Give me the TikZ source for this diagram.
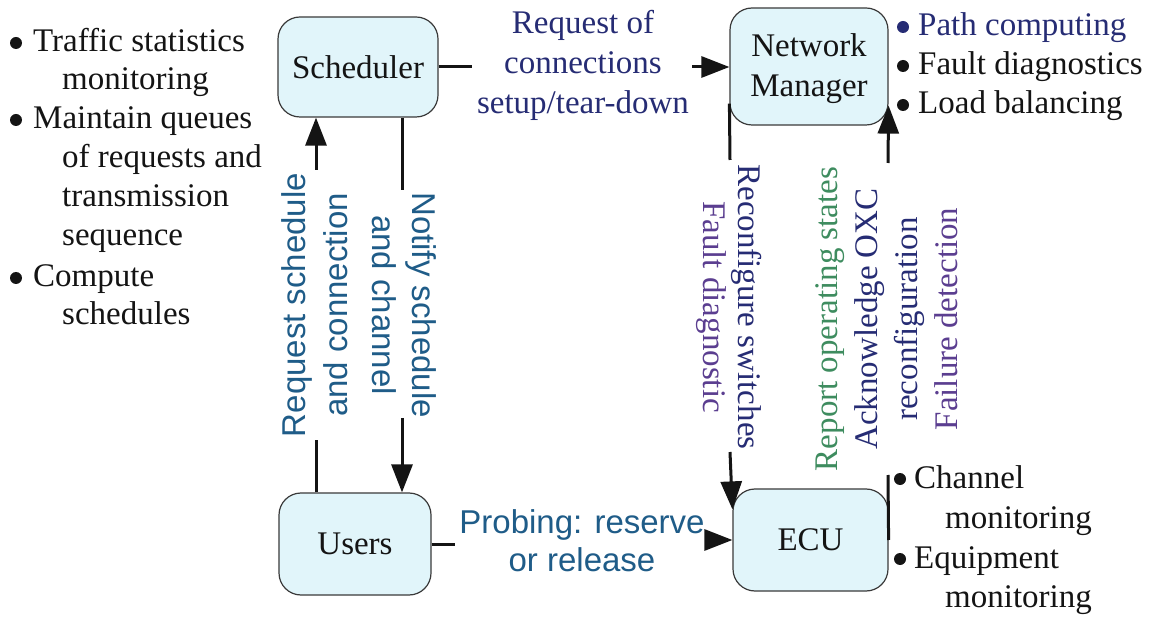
\documentclass[tikz,border=0pt]{standalone}
\usepackage{fontspec}
\setmainfont{Liberation Serif}
\setsansfont{Liberation Sans}
\usetikzlibrary{arrows.meta,calc}
\definecolor{inknavy}{HTML}{262C74}
\definecolor{inkteal}{HTML}{1F5C88}
\definecolor{inkpurple}{HTML}{5B3E90}
\definecolor{inkgreen}{HTML}{3E8C5F}
\definecolor{inkblack}{HTML}{141414}
\definecolor{boxfill}{HTML}{E1F5FA}
\definecolor{boxline}{HTML}{3A3A3A}
\tikzset{
  unit/.style={draw=boxline, fill=boxfill, line width=1.2pt, rounded corners=22pt,
    inner sep=0pt, font=\fontsize{33pt}{40pt}\selectfont, text=inkblack, align=center},
  serif33/.style={inner sep=0pt, font=\fontsize{33pt}{40pt}\selectfont},
  sans33/.style={inner sep=0pt, font=\sffamily\fontsize{33pt}{40pt}\selectfont,
    text=inkteal, align=center},
  listline/.style={inner sep=0pt, anchor=base west,
    font=\fontsize{33pt}{40pt}\selectfont, text=inkblack},
  link/.style={line width=3pt, draw=inkblack},
  flow/.style={link, -{Triangle[length=28pt,width=21pt]}},
  dot/.style={fill=inkblack},
}
\begin{document}
\begin{tikzpicture}[x=1pt,y=-1pt]
\useasboundingbox[fill=white] (0,0) rectangle (1154,617);

% functional units
\node[unit, minimum width=160pt, minimum height=100pt] (sched) at (358,67) {Scheduler};
\node[unit, minimum width=158pt, minimum height=117pt] (nm) at (809,66.5) {\strut Network\\Manager};
\node[unit, minimum width=152pt, minimum height=102pt] (users) at (355,544) {Users};
\node[unit, minimum width=155pt, minimum height=102pt] (ecu) at (810.5,540) {ECU};

% free ends of the interrupted connectors
\coordinate (snA) at (472,67);
\coordinate (snB) at (692,67);
\coordinate (usA) at (316,440);
\coordinate (usB) at (316,170);
\coordinate (suA) at (402,190);
\coordinate (suB) at (402,418);
\coordinate (ueA) at (455,544);
\coordinate (ueB) at (705,540);
\coordinate (neA) at (730,160);
\coordinate (neB) at (730,452);
\coordinate (neT) at ($(ecu.north west)+(0,21)$);
\coordinate (enA) at (888,475);
\coordinate (enB) at (888,163);
\coordinate (enT) at ($(nm.south east)+(0,-20)$);

% Scheduler -> Network Manager
\draw[link] (sched.east) -- (snA);
\draw[flow] (snB) -- (snB -| nm.west);
% Users -> Scheduler
\draw[link] (usA |- users.north) -- (usA);
\draw[flow] (usB) -- (usB |- sched.south);
% Scheduler -> Users
\draw[link] (suA |- sched.south) -- (suA);
\draw[flow] (suB) -- (suB |- users.north);
% Users -> ECU
\draw[link] (users.east) -- (ueA);
\draw[flow] (ueB) -- (ueB -| ecu.west);
% Network Manager -> ECU
\draw[link] ([yshift=22pt]nm.south west) -- (neA);
\draw[flow] (neB) -- (neT);
% ECU -> Network Manager
\draw[link] (ecu.east) -- (enA);
\draw[flow] (enB) -- (enT);

% connector labels
\node[serif33, text=inknavy, align=center] (setup) at (583,65)
  {Request of\\connections\\setup/tear-down};
\node[sans33, rotate=90, font=\sffamily\fontsize{33pt}{42pt}\selectfont] (reqsched) at (315,305)
  {Request schedule\\and connection};
\node[sans33, rotate=-90] (notify) at (404,305) {Notify schedule\\and channel};
\node[sans33, font=\sffamily\fontsize{33pt}{38pt}\selectfont] (probe) at (582,541)
  {Probing: reserve\\or release};
\node[serif33, rotate=-90, align=center, font=\fontsize{33pt}{35pt}\selectfont] (reconf) at (729,307)
  {\textcolor{inknavy}{Reconfigure switches}\\\textcolor{inkpurple}{Fault diagnostic}};
\node[serif33, rotate=90, align=center] (report) at (887,319)
  {\textcolor{inkgreen}{Report operating states}\\\textcolor{inknavy}{Acknowledge OXC}\\
   \textcolor{inknavy}{reconfiguration}\\\textcolor{inkpurple}{Failure detection}};

% Scheduler tasks
\node[listline] (t1) at (33,52) {Traffic statistics};
\node[listline] (t2) at (62,90) {monitoring};
\node[listline] (t3) at (33,129) {Maintain queues};
\node[listline] (t4) at (62,168) {of requests and};
\node[listline] (t5) at (62,207) {transmission};
\node[listline] (t6) at (62,246) {sequence};
\node[listline] (t7) at (33,287) {Compute};
\node[listline] (t8) at (62,325) {schedules};
\foreach \n in {t1,t3,t7}
  \fill[dot] ($(\n.base west)+(-17,-9)$) circle (6pt);

% Network Manager tasks
\node[listline, text=inknavy] (m1) at (918,36) {Path computing};
\node[listline] (m2) at (918,75) {Fault diagnostics};
\node[listline] (m3) at (918,114) {Load balancing};
\fill[inknavy] ($(m1.base west)+(-15,-9)$) circle (6pt);
\foreach \n in {m2,m3}
  \fill[dot] ($(\n.base west)+(-15,-9)$) circle (6pt);

% ECU tasks
\node[listline] (e1) at (914,488) {Channel};
\node[listline] (e2) at (945,528) {monitoring};
\node[listline] (e3) at (914,568) {Equipment};
\node[listline] (e4) at (945,607) {monitoring};
\foreach \n in {e1,e3}
  \fill[dot] ($(\n.base west)+(-14,-9)$) circle (6pt);
\end{tikzpicture}
\end{document}
